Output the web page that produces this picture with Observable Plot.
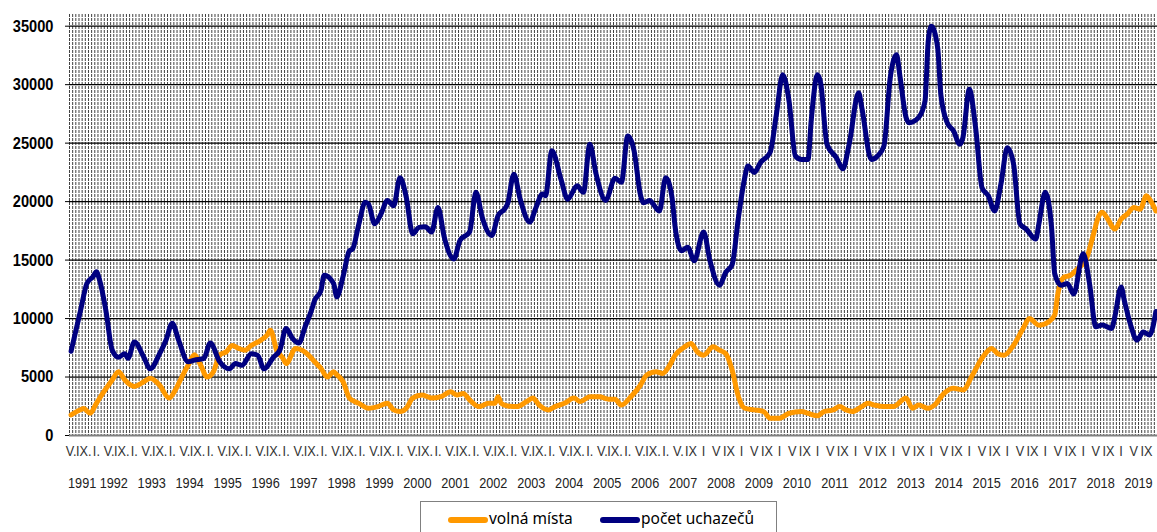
<!DOCTYPE html>
<html>
<head>
<meta charset="utf-8">
<script src="https://cdn.jsdelivr.net/npm/d3@7"></script>
<script src="https://cdn.jsdelivr.net/npm/@observablehq/plot@0.6"></script>
<style>
  html, body { margin: 0; padding: 0; background: #fff; }
  body { position: relative; width: 1157px; height: 532px; overflow: hidden; }
  #legend { position: absolute; left: 420px; top: 501px; width: 357px; height: 44px;
            border: 1px solid #808080; box-sizing: border-box; background: #fff;
            font-family: "Noto Sans", "Open Sans", sans-serif; font-size: 15.5px; color: #000; }
  .sw { position: absolute; top: 15px; width: 40px; height: 6px; border-radius: 3px; }
  .lt { position: absolute; top: 3px; line-height: 26px; }
</style>
</head>
<body>
<div id="chart"></div>
<div id="legend">
  <div class="sw" style="left:27px;background:#FF9900"></div>
  <div class="lt" style="left:68px">volná místa</div>
  <div class="sw" style="left:179px;background:#000080"></div>
  <div class="lt" style="left:220px">počet uchazečů</div>
</div>
<script>
// ---- data ----
const seriesNames = ["volná místa", "počet uchazečů"];

const uchazeciMonths = ["1991-05","1991-08","1991-10","1991-12","1992-01","1992-02","1992-04","1992-06","1992-08","1992-10","1992-11","1993-01","1993-04","1993-06","1993-09","1993-11","1994-01","1994-03","1994-06","1994-08","1994-11","1995-01","1995-04","1995-07","1995-09","1995-11","1996-02","1996-04","1996-06","1996-09","1996-11","1997-01","1997-03","1997-05","1997-07","1997-09","1997-10","1997-12","1998-01","1998-04","1998-05","1998-07","1998-09","1998-10","1998-12","1999-02","1999-03","1999-05","1999-07","1999-09","1999-11","2000-01","2000-03","2000-05","2000-07","2000-09","2000-11","2001-01","2001-03","2001-06","2001-08","2001-11","2002-01","2002-03","2002-06","2002-08","2002-10","2002-11","2003-01","2003-03","2003-06","2003-08","2003-10","2003-11","2004-01","2004-04","2004-06","2004-09","2004-11","2005-01","2005-03","2005-06","2005-09","2005-11","2006-01","2006-03","2006-05","2006-06","2006-08","2006-09","2006-11","2007-01","2007-03","2007-04","2007-06","2007-08","2007-10","2008-01","2008-03","2008-06","2008-08","2008-10","2008-12","2009-02","2009-03","2009-05","2009-07","2009-10","2009-12","2010-02","2010-04","2010-06","2010-08","2010-10","2010-11","2011-01","2011-02","2011-04","2011-07","2011-09","2011-11","2012-02","2012-03","2012-06","2012-08","2012-10","2012-12","2013-02","2013-03","2013-05","2013-06","2013-09","2013-11","2013-12","2014-01","2014-03","2014-04","2014-06","2014-08","2014-10","2014-11","2015-01","2015-03","2015-05","2015-07","2015-09","2015-11","2016-01","2016-03","2016-05","2016-07","2016-10","2016-11","2017-01","2017-03","2017-04","2017-06","2017-08","2017-10","2018-01","2018-03","2018-05","2018-07","2018-10","2018-11","2019-01","2019-02","2019-04","2019-06","2019-08","2019-10","2019-12"];
const uchazeciValues = [7200,10700,13000,13600,14000,13300,10700,7300,6700,7000,6600,8000,6700,5700,7000,8150,9600,8150,6300,6450,6600,7900,6300,5700,6150,6000,7000,6850,5700,6700,7300,9150,8300,7900,9300,10700,11550,12400,13700,13000,11850,13600,15800,15950,18100,19950,19800,18100,18950,20100,19650,22050,20350,17250,17800,17850,17400,19500,16950,15100,16700,17400,20800,18650,17100,18800,19350,19800,22350,20200,18250,19500,20650,20500,24350,21800,20200,21350,20800,24900,22350,20100,22000,21650,25600,24350,20600,19900,20100,19800,19200,22050,20350,17800,15800,16100,14950,17400,14950,12850,13950,14600,18650,22050,23050,22500,23350,24200,27450,30850,28600,23900,23600,23600,26900,30850,30150,24900,23750,22800,24900,29300,28050,23600,23900,24750,30600,32550,30850,27200,26750,27200,28600,33700,35000,33150,29150,26750,26050,24900,25500,29600,26300,21200,20500,19200,21500,24600,23200,18100,17650,16800,18100,20800,17800,13850,12850,13000,12100,15550,13000,9300,9450,9150,10150,12700,11550,9450,8150,8850,8600,10600];

const mistaMonths = ["1991-05","1991-08","1991-09","1991-11","1992-01","1992-03","1992-06","1992-08","1992-10","1993-01","1993-04","1993-06","1993-09","1993-12","1994-02","1994-04","1994-06","1994-08","1994-10","1994-12","1995-02","1995-04","1995-06","1995-08","1995-10","1995-12","1996-02","1996-05","1996-07","1996-08","1996-10","1996-12","1997-01","1997-04","1997-06","1997-08","1997-10","1997-12","1998-02","1998-04","1998-05","1998-07","1998-09","1998-12","1999-03","1999-06","1999-09","1999-11","2000-01","2000-03","2000-05","2000-08","2000-11","2001-02","2001-05","2001-07","2001-09","2001-11","2002-02","2002-05","2002-07","2002-08","2002-09","2002-11","2003-02","2003-05","2003-07","2003-09","2003-12","2004-02","2004-05","2004-08","2004-10","2005-01","2005-04","2005-07","2005-09","2005-11","2006-02","2006-05","2006-07","2006-10","2006-12","2007-02","2007-04","2007-07","2007-09","2007-11","2008-01","2008-04","2008-06","2008-08","2008-10","2008-12","2009-02","2009-05","2009-08","2009-10","2010-01","2010-04","2010-08","2010-10","2011-01","2011-03","2011-06","2011-08","2011-10","2011-12","2012-03","2012-05","2012-07","2012-10","2013-01","2013-05","2013-07","2013-09","2013-12","2014-02","2014-05","2014-08","2014-11","2015-02","2015-05","2015-08","2015-10","2015-12","2016-03","2016-06","2016-08","2016-11","2017-02","2017-04","2017-05","2017-07","2017-09","2017-11","2018-02","2018-04","2018-06","2018-07","2018-09","2018-11","2019-01","2019-03","2019-05","2019-07","2019-09","2019-10","2019-12"];
const mistaValues = [1760,2200,2300,1900,2750,3600,4750,5450,4750,4200,4600,4900,4300,3200,3900,5000,6000,6900,6000,5000,5450,6900,7150,7700,7450,7300,7700,8150,8600,9000,7300,6600,6150,7450,7300,6900,6300,5750,5000,5450,5200,4600,3200,2750,2330,2470,2750,2190,2050,2330,3200,3460,3200,3320,3750,3460,3600,3040,2470,2750,2750,3320,2750,2530,2470,2900,3200,2600,2190,2470,2750,3200,2900,3320,3320,3100,3100,2600,3320,4300,5170,5450,5300,5880,6870,7580,7870,7150,6870,7580,7300,7000,5600,3320,2330,2190,2050,1480,1480,1900,2050,1900,1680,2050,2190,2470,2190,2050,2470,2750,2600,2470,2470,3200,2330,2600,2330,2600,3600,4030,3900,5170,6600,7450,7000,6870,7720,9150,10000,9430,9710,10300,12130,13550,13700,14200,15100,16950,18800,19100,18400,17650,18500,18950,19500,19350,20500,20200,19200];

// axis categories and tick labels
const firstMonth = "1991-05", lastMonth = "2019-12";
const years = d3.range(1991, 2020);              // year labels 1991 … 2019
const monthLabelNames = {1: "I", 5: "V", 9: "IX"}; // labelled months
const dottedUntil = "2007-05";                   // labels written "V." "IX." "I." up to here
const yTicks = [0, 5000, 10000, 15000, 20000, 25000, 30000, 35000];

// ---- helpers ----
const idx = s => { const [y, m] = s.split("-").map(Number); return (y - 1991) * 12 + (m - 1) - 4; };
const i0 = idx(firstMonth), i1 = idx(lastMonth);
const monthOf = i => ((i + 4) % 12) + 1;

const mista = mistaMonths.map((m, k) => ({i: idx(m), v: mistaValues[k]}));
const uchazeci = uchazeciMonths.map((m, k) => ({i: idx(m), v: uchazeciValues[k]}));

const allMonths = d3.range(i0, i1 + 1);
const gridX = d3.range(i0, i1 + 2).map(i => i - 0.5);
const monthTicks = allMonths.filter(i => monthLabelNames[monthOf(i)]);
const dotLimit = idx(dottedUntil);
const monthText = i => monthLabelNames[monthOf(i)] + (i <= dotLimit ? "." : "");
const yearTicks = years.map(y => {
  const a = Math.max(i0, (y - 1991) * 12 - 4), b = Math.min(i1, (y - 1991) * 12 + 7);
  return (a + b) / 2;
});
const yearText = new Map(yearTicks.map((t, k) => [t, String(years[k])]));

const sans = '"Liberation Sans", Arial, sans-serif';

const chart = Plot.plot({
  width: 1157, height: 498,
  marginLeft: 69, marginRight: 0, marginTop: 14, marginBottom: 63,
  x: {type: "linear", domain: [i0 - 0.5, i1 + 0.5]},
  y: {domain: [0, 36000]},
  style: {fontFamily: sans, background: "#fff", overflow: "visible"},
  marks: [
    Plot.ruleX(gridX, {stroke: "#000", strokeWidth: 1, strokeDasharray: "3,1", strokeOpacity: 0.75}),
    Plot.ruleY(yTicks.filter(d => d > 0), {stroke: "#000", strokeWidth: 1.2}),
    Plot.ruleY([0], {stroke: "#808080", strokeWidth: 2}),
    Plot.axisY(yTicks, {tickSize: 4, tickPadding: 12, fontSize: 17, fontWeight: "bold", fill: "#000",
                        tickFormat: d => String(d), label: null}),
    Plot.axisX(monthTicks, {tickSize: 0, tickPadding: 9, fontSize: 15.5, fill: "#333",
                            tickFormat: monthText, label: null}),
    Plot.axisX(yearTicks, {tickSize: 0, tickPadding: 41, fontSize: 15.5, fill: "#222",
                           tickFormat: d => yearText.get(d), label: null}),
    Plot.line(mista, {x: "i", y: "v", stroke: "#FF9900", strokeWidth: 5, curve: "monotone-x"}),
    Plot.line(uchazeci, {x: "i", y: "v", stroke: "#000080", strokeWidth: 5, curve: "monotone-x"})
  ]
});
// narrow (condensed) look of the tick labels, as in the reference
const squeeze = (sel, k) => d3.select(chart).selectAll(sel).each(function () {
  const t = this.getAttribute("transform") || "";
  this.setAttribute("transform", t + ` scale(${k},1)`);
});
squeeze('g[aria-label="x-axis tick label"] text', 0.82);
squeeze('g[aria-label="y-axis tick label"] text', 0.86);
document.getElementById("chart").appendChild(chart);
</script>
</body>
</html>
